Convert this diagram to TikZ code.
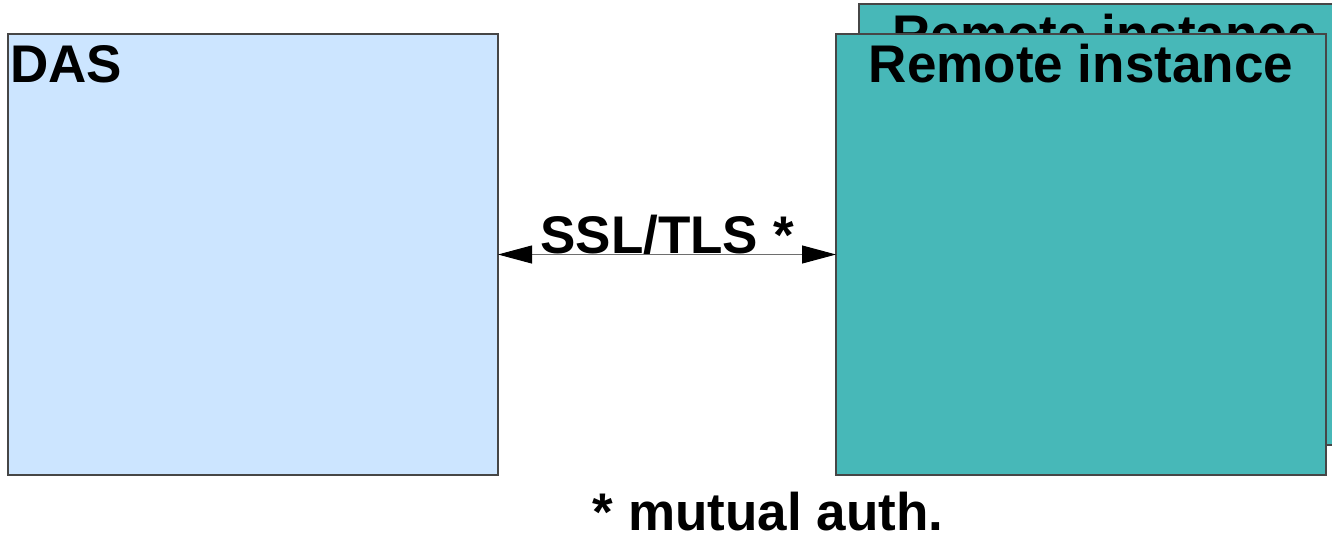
\documentclass[tikz,border=0pt]{standalone}
\usepackage{fontspec}
\setmainfont{Liberation Sans}
\usetikzlibrary{arrows.meta}
\definecolor{dasblue}{RGB}{204,229,255}
\definecolor{remoteteal}{RGB}{71,184,184}
\definecolor{edgegray}{RGB}{70,70,70}
\definecolor{linkgray}{RGB}{110,110,110}
\begin{document}
\begin{tikzpicture}[x=1pt,y=-1pt,
  box/.style={draw=edgegray, line width=1.1pt, minimum width=490pt, minimum height=441pt,
              inner sep=0pt, outer sep=0pt, anchor=north west},
  lbl/.style={font=\bfseries\fontsize{53}{60}\selectfont, inner sep=0pt, anchor=base},
  link/.style={draw=linkgray, line width=1pt,
               {Triangle[length=34pt,width=18pt,color=black]}-{Triangle[length=34pt,width=18pt,color=black]}}]
  \useasboundingbox (0,0) rectangle (1332,536);
  \clip (0,0) rectangle (1332,536);
  % second remote instance, stacked behind
  \node[box, fill=remoteteal] (back) at (859,4) {};
  \node[lbl] (backlabel) at (1104.5,52) {Remote instance};
  % main boxes
  \node[box, fill=dasblue] (das) at (8,34) {};
  \node[box, fill=remoteteal] (remote) at (836,34) {};
  \node[lbl, anchor=base west] (daslabel) at (10,82) {DAS};
  \node[lbl] (remotelabel) at (1081,82) {Remote instance};
  % secure channel
  \draw[link] (das.east) -- (remote.west);
  \node[lbl] (ssl) at (667,253) {SSL/TLS *};
  \node[lbl] (note) at (768,530) {* mutual auth.};
\end{tikzpicture}
\end{document}
